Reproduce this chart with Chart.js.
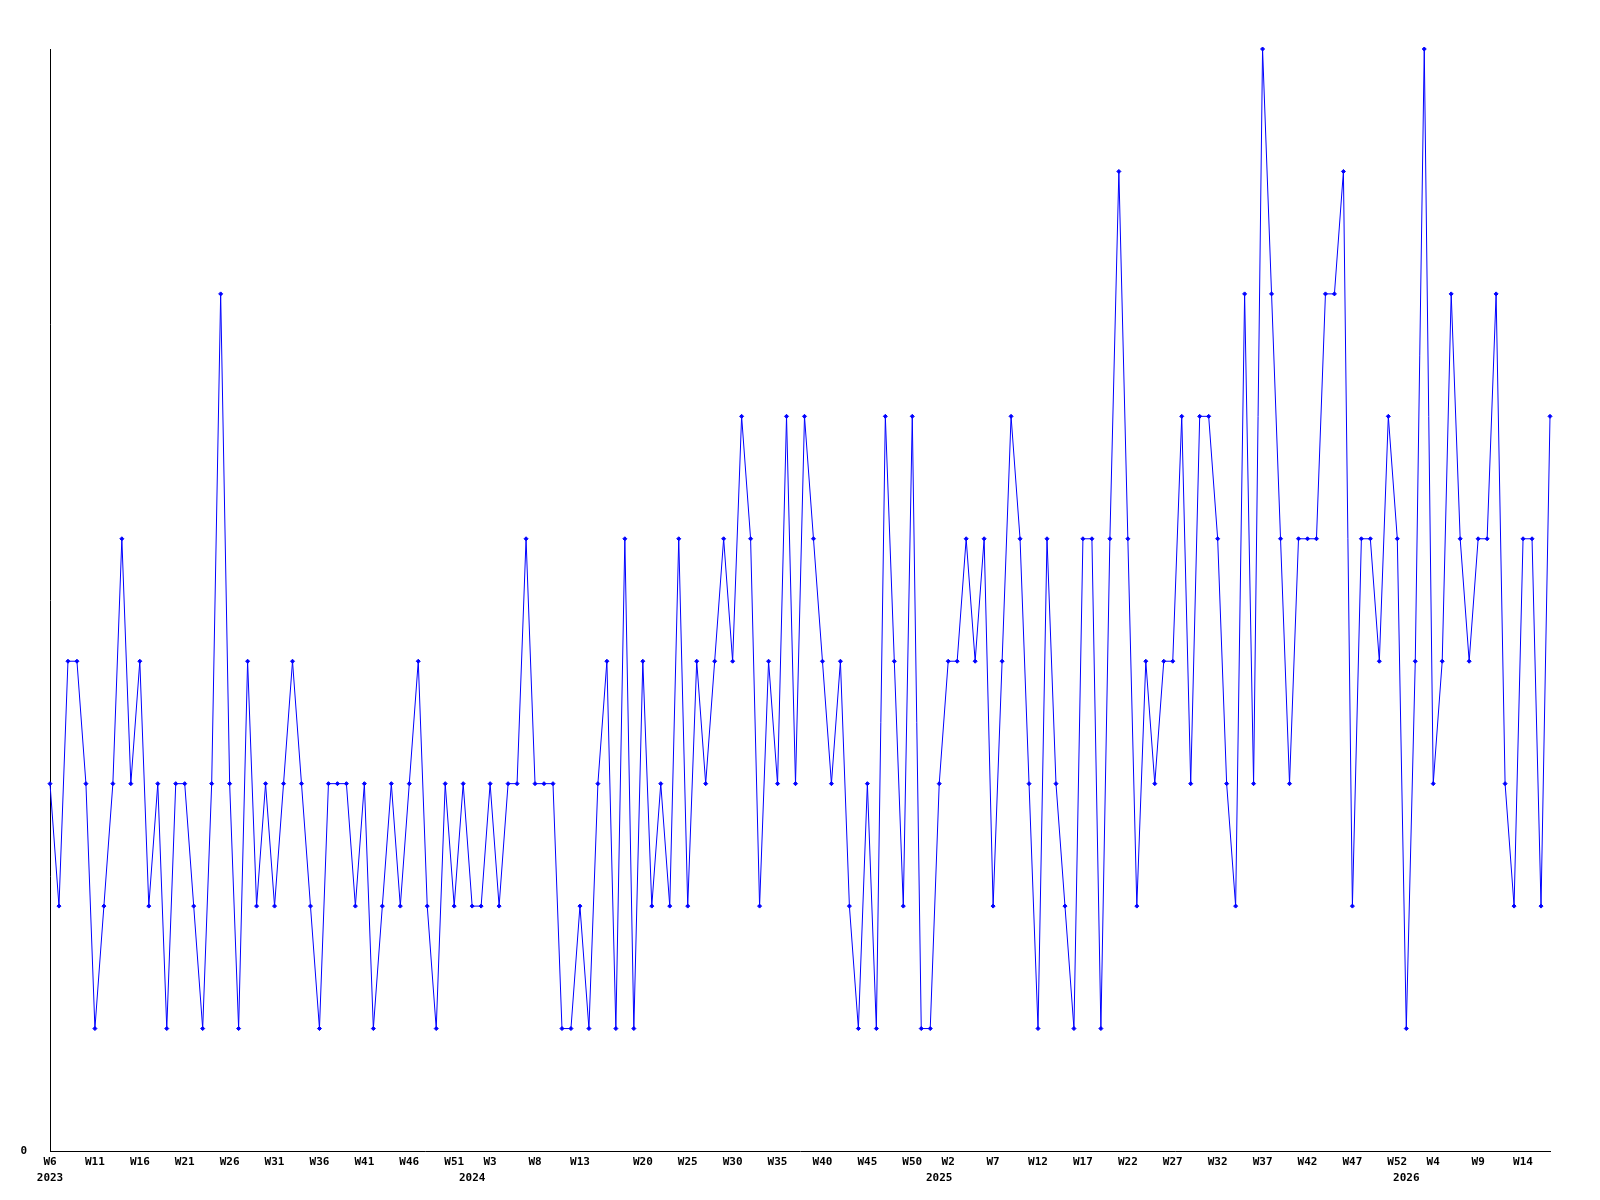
<!DOCTYPE html>
<html>
<head>
<meta charset="utf-8">
<title>Weekly chart</title>
<script src="https://cdn.jsdelivr.net/npm/chart.js@4.4.1/dist/chart.umd.min.js"></script>
<style>
  html, body { margin: 0; padding: 0; background: #fff; }
  canvas { display: block; }
</style>
</head>
<body>
<canvas id="weeklyChart" width="1600" height="1200"></canvas>
<script>
// Weeks covered: [year, first week, last week]
const yearSpans = [
  [2023, 6, 52],
  [2024, 1, 52],
  [2025, 1, 52],
  [2026, 1, 17]
];

// Week labels that are printed under the axis
const shownWeeks = [
  "2023-W6", "2023-W11", "2023-W16", "2023-W21", "2023-W26", "2023-W31", "2023-W36", "2023-W41", "2023-W46", "2023-W51",
  "2024-W3", "2024-W8", "2024-W13", "2024-W20", "2024-W25", "2024-W30", "2024-W35", "2024-W40", "2024-W45", "2024-W50",
  "2025-W2", "2025-W7", "2025-W12", "2025-W17", "2025-W22", "2025-W27", "2025-W32", "2025-W37", "2025-W42", "2025-W47", "2025-W52",
  "2026-W4", "2026-W9", "2026-W14"
];

// Weekly counts
const counts2023 = [
  3, 2, 4, 4, 3, 1, 2, 3, 5, 3, 4, 2, 3, 1, 3, 3, 2, 1, 3, 7,
  3, 1, 4, 2, 3, 2, 3, 4, 3, 2, 1, 3, 3, 3, 2, 3, 1, 2, 3, 2,
  3, 4, 2, 1, 3, 2, 3
];
const counts2024 = [
  2, 2, 3, 2, 3, 3, 5, 3, 3, 3, 1, 1, 2, 1, 3, 4, 1, 5, 1, 4,
  2, 3, 2, 5, 2, 4, 3, 4, 5, 4, 6, 5, 2, 4, 3, 6, 3, 6, 5, 4,
  3, 4, 2, 1, 3, 1, 6, 4, 2, 6, 1, 1
];
const counts2025 = [
  3, 4, 4, 5, 4, 5, 2, 4, 6, 5, 3, 1, 5, 3, 2, 1, 5, 5, 1, 5,
  8, 5, 2, 4, 3, 4, 4, 6, 3, 6, 6, 5, 3, 2, 7, 3, 9, 7, 5, 3,
  5, 5, 5, 7, 7, 8, 2, 5, 5, 4, 6, 5
];
const counts2026 = [
  1, 4, 9, 3, 4, 7, 5, 4, 5, 5, 7, 3, 2, 5, 5, 2, 6
];

// Build category list
const categories = [];
yearSpans.forEach(([year, first, last]) => {
  for (let w = first; w <= last; w++) categories.push(year + "-W" + w);
});
const values = [...counts2023, ...counts2024, ...counts2025, ...counts2026];

const tickFont = { family: "'DejaVu Sans Mono', monospace", size: 11, weight: "bold", lineHeight: 1.45 };

new Chart(document.getElementById("weeklyChart"), {
  type: "line",
  data: {
    labels: categories,
    datasets: [{
      data: values,
      borderColor: "#0000ff",
      backgroundColor: "#0000ff",
      borderWidth: 1,
      pointStyle: "rectRot",
      pointRadius: 2,
      pointBorderWidth: 1,
      tension: 0,
      fill: false,
      clip: false
    }]
  },
  options: {
    responsive: false,
    animation: false,
    layout: { padding: { top: 49, right: 50, bottom: 0, left: 0 } },
    plugins: {
      legend: { display: false },
      tooltip: { enabled: false }
    },
    scales: {
      x: {
        type: "category",
        offset: false,
        grid: { display: false, drawTicks: false },
        border: { display: true, color: "#000", width: 1 },
        ticks: {
          autoSkip: false,
          maxRotation: 0,
          minRotation: 0,
          padding: 3,
          color: "#000",
          font: tickFont,
          callback: (value, index) => {
            const c = categories[index];
            const [year, week] = c.split("-");
            const weekText = shownWeeks.includes(c) ? week : "";
            const isYearStart = index === 0 || week === "W1";
            if (!weekText && !isYearStart) return null;
            return isYearStart ? [weekText, year] : weekText;
          }
        },
        afterFit: scale => { scale.height = 49; }
      },
      y: {
        min: 0,
        max: 9,
        grid: { display: false, drawTicks: false },
        border: { display: true, color: "#000", width: 1 },
        ticks: {
          stepSize: 1,
          padding: 23,
          color: "#000",
          font: tickFont,
          callback: v => (v === 0 ? "0" : null)
        },
        afterFit: scale => { scale.width = 50; }
      }
    }
  }
});
</script>
</body>
</html>
